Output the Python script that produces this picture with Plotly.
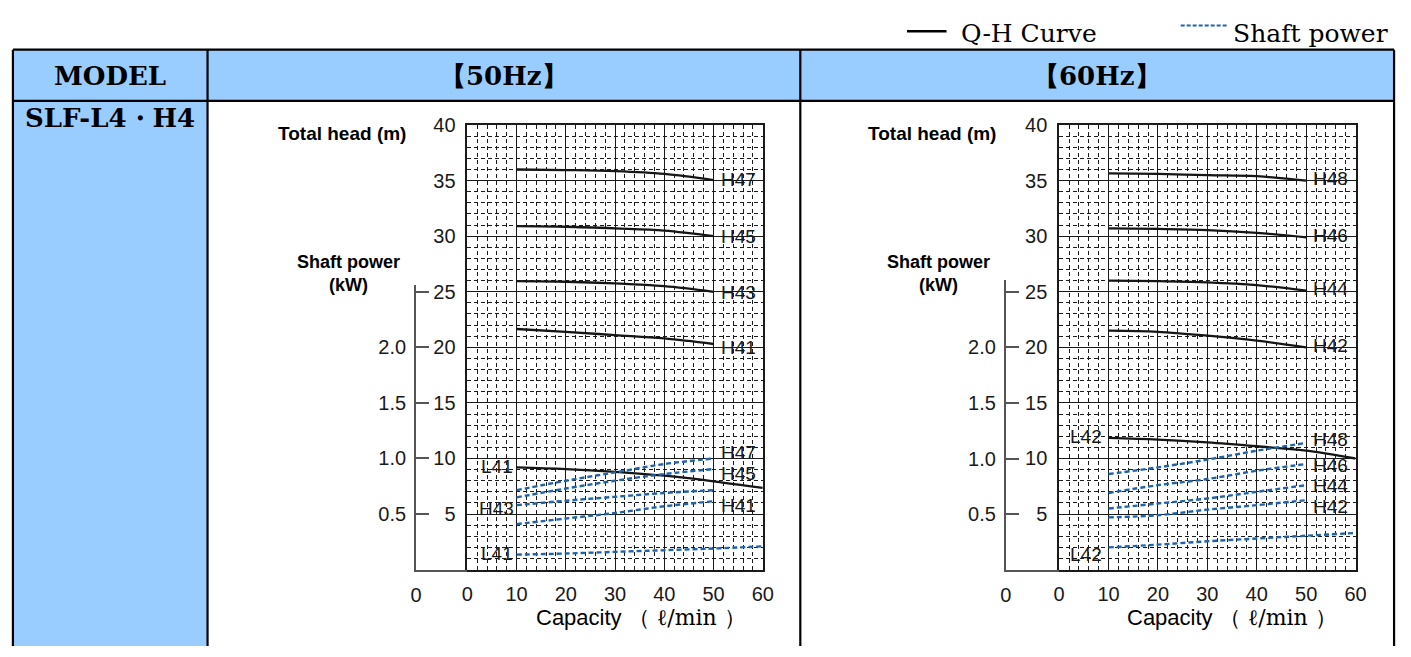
import plotly.graph_objects as go

W, H = 1411, 657

# ---------------- data ----------------
capacity = [10, 20, 30, 40, 50]          # l/min (H models)
capacity_l = [10, 20, 30, 40, 50, 60]    # l/min (L models)

# 50 Hz  Q-H curves (total head, m)
qh50_H47 = [36.0, 35.95, 35.85, 35.6, 35.05]
qh50_H45 = [30.9, 30.85, 30.7, 30.5, 30.0]
qh50_H43 = [25.95, 25.9, 25.75, 25.5, 25.0]
qh50_H41 = [21.65, 21.4, 21.1, 20.8, 20.3]
qh50_L41 = [9.2, 9.05, 8.8, 8.45, 7.95, 7.35]
# 50 Hz shaft power (kW)
sp50_H47 = [0.715, 0.80, 0.875, 0.95, 1.0]
sp50_H45 = [0.65, 0.73, 0.80, 0.86, 0.905]
sp50_H43 = [0.58, 0.62, 0.655, 0.69, 0.715]
sp50_H41 = [0.41, 0.46, 0.51, 0.57, 0.615]
sp50_L41 = [0.135, 0.145, 0.16, 0.175, 0.19, 0.21]

# 60 Hz  Q-H curves (total head, m)
qh60_H48 = [35.65, 35.6, 35.5, 35.4, 35.0]
qh60_H46 = [30.7, 30.65, 30.55, 30.3, 29.9]
qh60_H44 = [26.0, 25.95, 25.85, 25.6, 25.1]
qh60_H42 = [21.5, 21.4, 21.05, 20.6, 20.0]
qh60_L42 = [11.85, 11.7, 11.45, 11.1, 10.7, 10.0]
# 60 Hz shaft power (kW)
sp60_H48 = [0.86, 0.92, 0.99, 1.07, 1.14]
sp60_H46 = [0.69, 0.76, 0.815, 0.89, 0.95]
sp60_H44 = [0.55, 0.595, 0.64, 0.70, 0.76]
sp60_H42 = [0.47, 0.49, 0.54, 0.58, 0.625]
sp60_L42 = [0.20, 0.225, 0.255, 0.28, 0.305, 0.33]

# curve labels (text, capacity, head position)
lab50_text = ['H47', 'H45', 'H43', 'H41', 'H47', 'H45', 'H41', 'L41', 'H43', 'L41']
lab50_x = [55, 55, 55, 55, 55, 55, 55, 6, 6, 6]
lab50_y = [35.1, 29.95, 24.95, 19.95, 10.5, 8.65, 5.75, 9.3, 5.5, 1.45]

lab60_text = ['H48', 'H46', 'H44', 'H42', 'H48', 'H46', 'H44', 'H42', 'L42', 'L42']
lab60_x = [55, 55, 55, 55, 55, 55, 55, 55, 5.4, 5.4]
lab60_y = [35.15, 30.1, 25.25, 20.15, 11.75, 9.35, 7.6, 5.65, 11.95, 1.35]

x_ticks = [0, 10, 20, 30, 40, 50, 60]
head_range = [0, 40]
power_ticks = [0.5, 1.0, 1.5, 2.0, 2.5]
power_ticktext = ['0.5', '1.0', '1.5', '2.0', '']

header_texts = ['MODEL', '【50Hz】', '【60Hz】']
model_text = 'SLF-L4・H4'

# ---------------- styling ----------------
SANS = 'Liberation Sans, Arial, sans-serif'
SERIF = 'DejaVu Serif, serif'
INK = '#1a1a1a'
BLUE = '#1f63ad'
HEADER_BG = '#99ccff'


def px(xp):
    return xp / W


def py(yp):
    return 1 - yp / H


fig = go.Figure()
layout = dict(width=W, height=H, margin=dict(l=0, r=0, t=0, b=0),
              paper_bgcolor='white', plot_bgcolor='rgba(0,0,0,0)', showlegend=False)
annotations = []
shapes = []


def ref(name):
    return name.replace('axis', '')


def panel(xa, ya, yp, xa3, ya3, geom, qh, sp, labels):
    x0, x1, ytop, ybot, pwr_x, pwr_top = geom
    tickfont = dict(family=SANS, size=20, color=INK)
    layout[xa] = dict(domain=[px(x0), px(x1)], range=[0, 60], anchor=ref(ya),
                      tickmode='array', tickvals=x_ticks, showgrid=True,
                      gridcolor=INK, gridwidth=1.3, zeroline=False,
                      showline=True, mirror=True, linecolor=INK, linewidth=1.6,
                      ticks='outside', ticklen=6, tickcolor='rgba(0,0,0,0)',
                      tickfont=tickfont,
                      minor=dict(dtick=2, tick0=0, showgrid=True, gridcolor=INK,
                                 gridwidth=1, griddash='4px,3px'))
    layout[ya] = dict(domain=[py(ybot), py(ytop)], range=head_range, anchor=ref(xa),
                      tickmode='linear', tick0=0, dtick=5, labelalias={'0': ' '},
                      showgrid=True, gridcolor=INK, gridwidth=1.3, zeroline=False,
                      showline=True, mirror=True, linecolor=INK, linewidth=1.6,
                      ticks='outside', ticklen=6, tickcolor='rgba(0,0,0,0)',
                      tickfont=tickfont,
                      minor=dict(dtick=1, tick0=0, showgrid=True, gridcolor=INK,
                                 gridwidth=1, griddash='4px,3px'))
    # hidden power scale overlaying the head scale (10 m <-> 1 kW)
    layout[yp] = dict(overlaying=ref(ya), anchor=ref(xa),
                      range=[head_range[0] / 10, head_range[1] / 10], visible=False)
    # visible shaft power axis
    pwr_max = (ybot - pwr_top) / (ybot - ytop) * head_range[1] / 10
    layout[xa3] = dict(domain=[px(pwr_x), px(x0)], range=[0, 1], anchor=ref(ya3),
                       tickmode='array', tickvals=[0], ticktext=['0'], showgrid=False,
                       zeroline=False, showline=True, linecolor='#555', linewidth=1.8,
                       ticks='outside', ticklen=6, tickcolor='rgba(0,0,0,0)',
                       tickfont=tickfont)
    layout[ya3] = dict(domain=[py(ybot), py(pwr_top)], range=[0, pwr_max],
                       anchor=ref(xa3),
                       tickmode='array', tickvals=power_ticks, ticktext=power_ticktext,
                       showgrid=False, zeroline=False, showline=True, linecolor='#555',
                       linewidth=1.8, ticks='inside', ticklen=13, tickwidth=1.8,
                       tickcolor='#555', ticklabelstandoff=4,
                       tickfont=tickfont)
    # Q-H curves
    for ys in qh:
        xs = capacity if len(ys) == len(capacity) else capacity_l
        fig.add_trace(go.Scatter(x=xs, y=ys, xaxis=ref(xa), yaxis=ref(ya), mode='lines',
                                 line=dict(color='#151515', width=2.3, shape='spline'),
                                 hoverinfo='skip'))
    # shaft power curves
    for ys in sp:
        xs = capacity if len(ys) == len(capacity) else capacity_l
        fig.add_trace(go.Scatter(x=xs, y=ys, xaxis=ref(xa), yaxis=ref(yp), mode='lines',
                                 line=dict(color=BLUE, width=2.4, dash='5px,3px', shape='spline'),
                                 hoverinfo='skip'))
    # dummy trace to instantiate the power axis subplot
    fig.add_trace(go.Scatter(x=[0], y=[0], xaxis=ref(xa3), yaxis=ref(ya3),
                             mode='lines', line=dict(width=0), hoverinfo='skip'))
    # curve labels
    for t, lx, ly in zip(*labels):
        annotations.append(dict(text=t, x=lx, y=ly, xref=ref(xa), yref=ref(ya), showarrow=False,
                                xanchor='center', yanchor='middle',
                                font=dict(family=SANS, size=19, color=INK)))
    # axis titles
    annotations.append(dict(text='<b>Total head (m)</b>', x=px(pwr_x - 75), y=py(127), xref='paper',
                            yref='paper', showarrow=False, xanchor='center', yanchor='middle',
                            font=dict(family=SANS, size=19, color='#000')))
    annotations.append(dict(text='<b>Shaft power</b><br><b>(kW)</b>', x=px(pwr_x - 68), y=py(272),
                            xref='paper', yref='paper', showarrow=False, xanchor='center',
                            yanchor='middle', font=dict(family=SANS, size=18, color='#000')))
    annotations.append(dict(text="Capacity <span style='font-family:DejaVu Serif'>（ ℓ/min ）</span>",
                            x=px(x0 + 67), y=py(627), xref='paper', yref='paper', showarrow=False,
                            xanchor='left', yanchor='middle',
                            font=dict(family=SANS, size=22, color='#000')))


panel('xaxis', 'yaxis', 'yaxis2', 'xaxis3', 'yaxis3',
      (467, 766, 118, 578, 415, 283),
      [qh50_H47, qh50_H45, qh50_H43, qh50_H41, qh50_L41],
      [sp50_H47, sp50_H45, sp50_H43, sp50_H41, sp50_L41],
      (lab50_text, lab50_x, lab50_y))
panel('xaxis2', 'yaxis4', 'yaxis5', 'xaxis4', 'yaxis6',
      (1066, 1366, 118, 578, 1012, 278),
      [qh60_H48, qh60_H46, qh60_H44, qh60_H42, qh60_L42],
      [sp60_H48, sp60_H46, sp60_H44, sp60_H42, sp60_L42],
      (lab60_text, lab60_x, lab60_y))

# ---------------- table frame ----------------
L, C1, C2, R = 7, 204, 804, 1405
TOP, HB = 40, 93
shapes.append(dict(type='rect', xref='paper', yref='paper', x0=px(L), x1=px(R), y0=py(HB), y1=py(TOP),
                   fillcolor=HEADER_BG, line=dict(width=0), layer='below'))
shapes.append(dict(type='rect', xref='paper', yref='paper', x0=px(L), x1=px(C1), y0=py(H), y1=py(HB),
                   fillcolor=HEADER_BG, line=dict(width=0), layer='below'))
for (a, b, c, d) in [(L, TOP, R, TOP), (L, HB, R, HB), (L, TOP, L, H), (C1, TOP, C1, H),
                     (C2, TOP, C2, H), (R, TOP, R, H)]:
    shapes.append(dict(type='line', xref='paper', yref='paper', x0=px(a), y0=py(b), x1=px(c), y1=py(d),
                       line=dict(color='#000', width=2.2)))

for t, cx in zip(header_texts, [(L + C1) / 2, (C1 + C2) / 2, (C2 + R) / 2]):
    annotations.append(dict(text='<b>' + t + '</b>', x=px(cx), y=py(67), xref='paper', yref='paper',
                            showarrow=False, xanchor='center', yanchor='middle',
                            font=dict(family=SERIF, size=26, color='#000')))
annotations.append(dict(text='<b>' + model_text + '</b>', x=px((L + C1) / 2), y=py(111), xref='paper',
                        yref='paper', showarrow=False, xanchor='center', yanchor='middle',
                        font=dict(family=SERIF, size=26, color='#000')))

# ---------------- top legend ----------------
shapes.append(dict(type='line', xref='paper', yref='paper', x0=px(912), x1=px(952), y0=py(21), y1=py(21),
                   line=dict(color='#000', width=2.5)))
annotations.append(dict(text='Q-H Curve', x=px(965), y=py(23), xref='paper', yref='paper',
                        showarrow=False, xanchor='left', yanchor='middle',
                        font=dict(family=SERIF, size=25, color='#000')))
shapes.append(dict(type='line', xref='paper', yref='paper', x0=px(1189), x1=px(1236), y0=py(15), y1=py(15),
                   line=dict(color=BLUE, width=2, dash='4px,2px')))
annotations.append(dict(text='Shaft power', x=px(1240), y=py(23), xref='paper', yref='paper',
                        showarrow=False, xanchor='left', yanchor='middle',
                        font=dict(family=SERIF, size=25, color='#000')))

layout['annotations'] = annotations
layout['shapes'] = shapes
fig.update_layout(**layout)
fig.write_html('out.html')
